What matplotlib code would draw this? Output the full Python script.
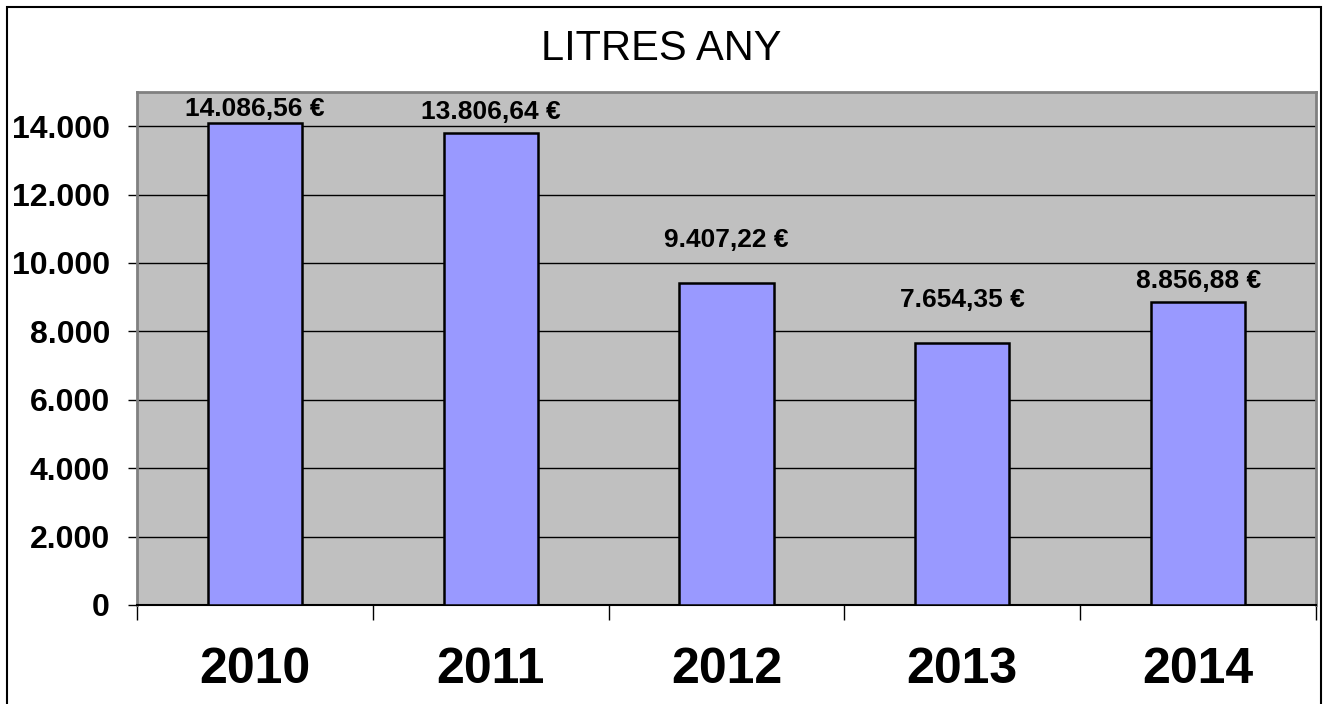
import matplotlib
matplotlib.use("Agg")
import matplotlib.pyplot as plt
from matplotlib.patches import Rectangle
from matplotlib.ticker import FixedLocator, FuncFormatter
import numpy as np

plt.rcParams['font.family'] = ['Liberation Sans', 'DejaVu Sans']

years = ['2010', '2011', '2012', '2013', '2014']
values = [14086.56, 13806.64, 9407.22, 7654.35, 8856.88]
# label gap above each bar (points), as placed in the original
label_gap = [10, 15, 31, 31, 15]


def eur(v):
    s = f"{v:,.2f}".replace(",", "X").replace(".", ",").replace("X", ".")
    return s + " €"


fig = plt.figure(figsize=(13.23, 7.04), dpi=100)
fig.patches.append(Rectangle((7 / 1323, -0.05), (1321 - 7) / 1323, 1 - 7 / 704 + 0.05,
                             transform=fig.transFigure, fill=False,
                             edgecolor='black', linewidth=1.5))

ax = fig.add_axes([137 / 1323, 1 - 605 / 704, (1316 - 137) / 1323, (605 - 92) / 704])
ax.set_facecolor('#C0C0C0')

x = np.arange(len(years))
ax.bar(x, values, width=0.4, color='#9999FF', edgecolor='black', linewidth=1.8, zorder=3)

ax.set_xlim(-0.5, len(years) - 0.5)
ax.set_ylim(0, 15000)
ax.set_yticks(np.arange(0, 14001, 2000))
ax.yaxis.set_major_formatter(FuncFormatter(lambda v, p: f"{int(v):,}".replace(",", ".")))
ax.grid(axis='y', color='black', linewidth=1, zorder=1)

ax.set_xticks(x)
ax.set_xticklabels(years, fontsize=36, fontweight='bold')
ax.xaxis.set_minor_locator(FixedLocator(np.arange(-0.5, len(years), 1.0)))
ax.tick_params(axis='x', which='major', length=0, pad=30)
ax.tick_params(axis='x', which='minor', length=11, width=1, color='black')
ax.tick_params(axis='y', length=6.5, width=1, color='black', pad=13, labelsize=23)
for lab in ax.get_yticklabels():
    lab.set_fontweight('bold')

for s in ax.spines.values():
    s.set_color('#808080')
    s.set_linewidth(2)
ax.spines['bottom'].set_color('black')
ax.spines['bottom'].set_linewidth(1.5)

for xi, v, g in zip(x, values, label_gap):
    ax.annotate(eur(v), (xi, v), xytext=(0, g), textcoords='offset points',
                ha='center', va='center', fontsize=19, fontweight='bold', zorder=4)

fig.text(0.5, 1 - 49 / 704, 'LITRES ANY', ha='center', va='center', fontsize=30)

fig.savefig('out.png', dpi=100)
